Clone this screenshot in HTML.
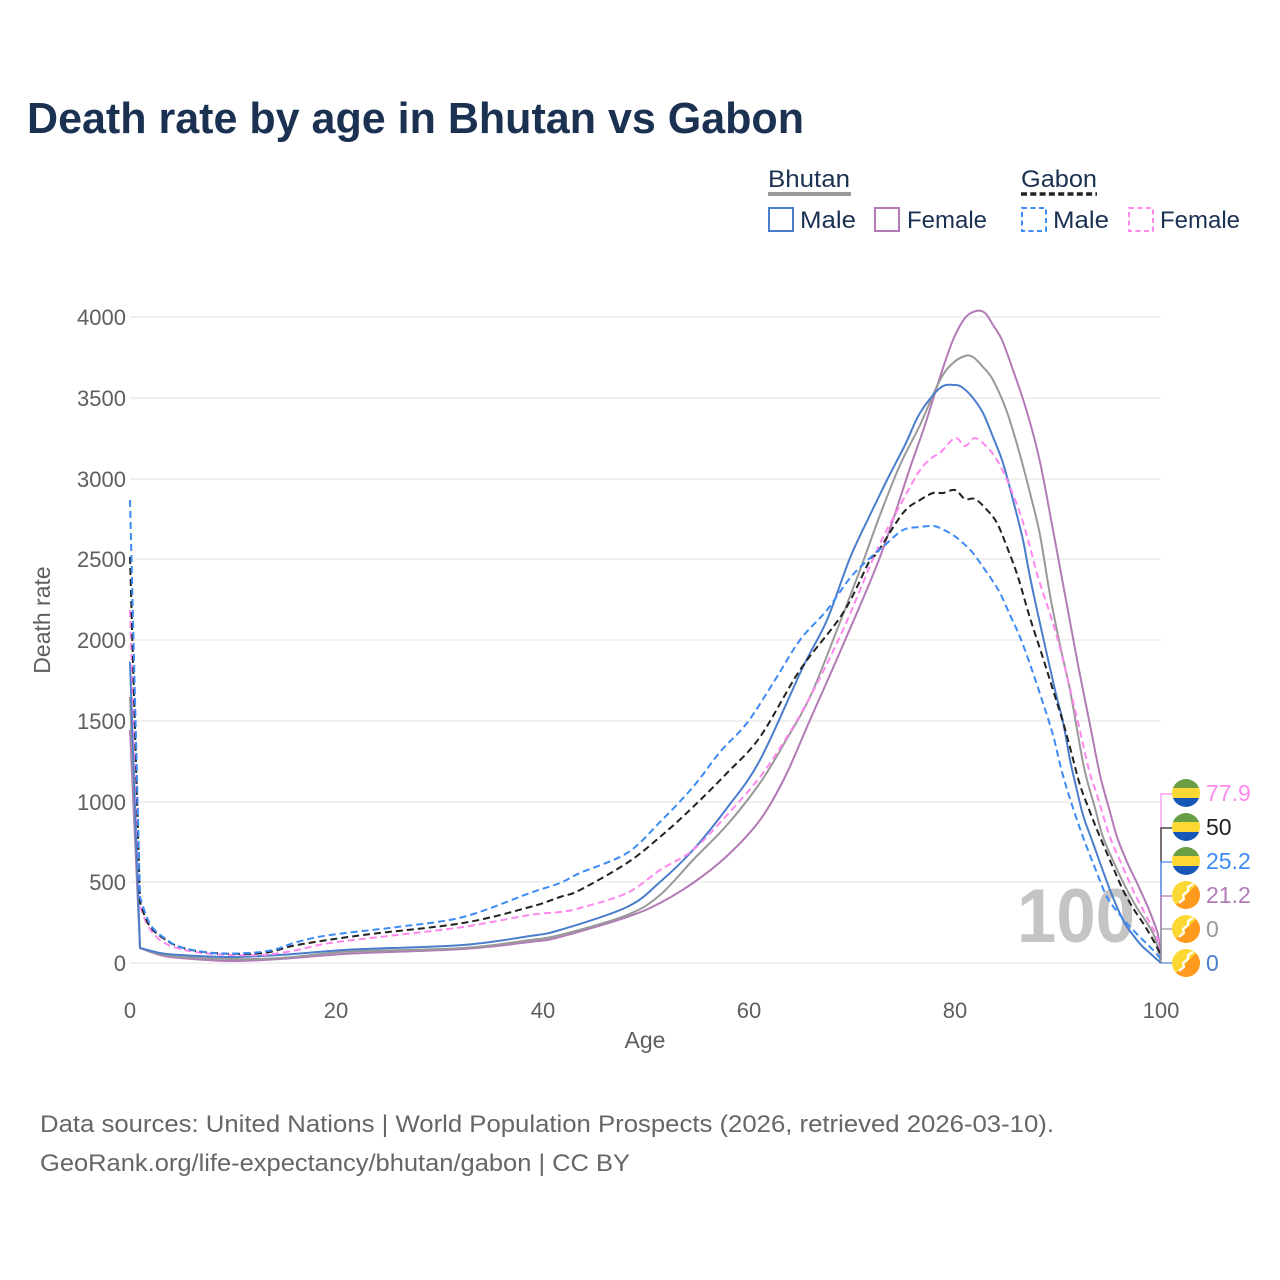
<!DOCTYPE html>
<html>
<head>
<meta charset="utf-8">
<style>
html,body{margin:0;padding:0;background:#fff;}
svg{display:block;}
text{font-family:"Liberation Sans",sans-serif;}
</style>
</head>
<body>
<svg id="chart" width="1280" height="1280" viewBox="0 0 1280 1280" xmlns="http://www.w3.org/2000/svg">
<rect width="1280" height="1280" fill="#fff"/>

<!-- Title -->
<text x="27" y="133" font-size="44" font-weight="bold" fill="#1b3152" textLength="777" lengthAdjust="spacingAndGlyphs">Death rate by age in Bhutan vs Gabon</text>

<!-- Legend -->
<text x="768" y="187" font-size="24" fill="#1b3152" textLength="82" lengthAdjust="spacingAndGlyphs">Bhutan</text>
<line x1="768" y1="194" x2="851" y2="194" stroke="#999" stroke-width="4"/>
<text x="1021" y="187" font-size="24" fill="#1b3152" textLength="76" lengthAdjust="spacingAndGlyphs">Gabon</text>
<line x1="1021" y1="194" x2="1097" y2="194" stroke="#222" stroke-width="3.5" stroke-dasharray="6,3.3"/>

<rect x="769" y="208" width="24" height="23" fill="none" stroke="#4a7dcb" stroke-width="2"/>
<text x="800" y="228" font-size="24" fill="#1b3152" textLength="56" lengthAdjust="spacingAndGlyphs">Male</text>
<rect x="875" y="208" width="24" height="23" fill="none" stroke="#b27ab6" stroke-width="2"/>
<text x="907" y="228" font-size="24" fill="#1b3152" textLength="80" lengthAdjust="spacingAndGlyphs">Female</text>
<rect x="1022" y="208" width="24" height="23" fill="none" stroke="#3d8bf5" stroke-width="2" stroke-dasharray="5,3.5"/>
<text x="1053" y="228" font-size="24" fill="#1b3152" textLength="56" lengthAdjust="spacingAndGlyphs">Male</text>
<rect x="1129" y="208" width="24" height="23" fill="none" stroke="#ff88ee" stroke-width="2" stroke-dasharray="5,3.5"/>
<text x="1160" y="228" font-size="24" fill="#1b3152" textLength="80" lengthAdjust="spacingAndGlyphs">Female</text>

<!-- Gridlines -->
<g stroke="#ebebeb" stroke-width="1.5">
<line x1="130" y1="317" x2="1161" y2="317"/>
<line x1="130" y1="398" x2="1161" y2="398"/>
<line x1="130" y1="479" x2="1161" y2="479"/>
<line x1="130" y1="559" x2="1161" y2="559"/>
<line x1="130" y1="640" x2="1161" y2="640"/>
<line x1="130" y1="721" x2="1161" y2="721"/>
<line x1="130" y1="802" x2="1161" y2="802"/>
<line x1="130" y1="882" x2="1161" y2="882"/>
<line x1="130" y1="963" x2="1161" y2="963"/>
</g>

<!-- Y tick labels -->
<g font-size="22" fill="#5e5e5e" text-anchor="end">
<text x="126" y="325">4000</text>
<text x="126" y="406">3500</text>
<text x="126" y="487">3000</text>
<text x="126" y="567">2500</text>
<text x="126" y="648">2000</text>
<text x="126" y="729">1500</text>
<text x="126" y="810">1000</text>
<text x="126" y="890">500</text>
<text x="126" y="971">0</text>
</g>
<text transform="translate(50,620) rotate(-90)" font-size="23" fill="#5e5e5e" text-anchor="middle">Death rate</text>

<!-- X tick labels -->
<g font-size="22" fill="#5e5e5e" text-anchor="middle">
<text x="130" y="1018">0</text>
<text x="336" y="1018">20</text>
<text x="543" y="1018">40</text>
<text x="749" y="1018">60</text>
<text x="955" y="1018">80</text>
<text x="1161" y="1018">100</text>
</g>
<text x="645" y="1048" font-size="23" fill="#5e5e5e" text-anchor="middle">Age</text>

<!-- Watermark -->
<text x="1076" y="942" font-size="76" font-weight="bold" fill="#c4c4c4" text-anchor="middle" textLength="118" lengthAdjust="spacingAndGlyphs">100</text>

<!-- Series -->
<g id="series" fill="none" stroke-width="2" stroke-linejoin="round" stroke-linecap="butt">
<polyline stroke="#b27ab6" points="130,730 140,948 160,955 180,958 230,961 280,959 330,955 363,953 463,949 530,942 560,937 627,917 660,903 693,883 727,856 760,820 785,777 810,720 843,645 880,557 910,468 925,425 940,377 953,340 965,318 976,311 985,313 993,325 1002,340 1013,370 1027,412 1040,462 1053,530 1066,600 1078,665 1090,725 1100,775 1110,812 1117,837 1127,862 1137,883 1147,905 1153,920 1158,935 1161,960"/>
<polyline stroke="#999999" points="130,697 140,948 160,954 180,957 230,959 280,958 330,953 363,951 463,948 530,940 560,935 627,915 660,895 693,860 727,825 760,783 785,742 810,697 835,635 860,570 880,515 900,465 920,425 940,380 953,363 965,356 973,357 983,367 993,380 1007,412 1020,455 1030,493 1040,535 1050,595 1060,645 1070,690 1078,735 1085,772 1095,808 1103,837 1115,865 1127,890 1137,908 1147,923 1155,938 1161,963"/>
<polyline stroke="#4a7dcb" points="130,662 140,948 160,953 180,955 230,957 280,955 330,951 363,949 463,945 530,936 560,930 627,907 660,882 693,850 727,808 760,760 803,667 827,620 850,558 870,515 887,480 905,445 920,413 940,388 955,385 963,388 973,398 983,413 993,437 1003,463 1013,500 1023,540 1030,577 1043,637 1055,690 1063,722 1070,760 1075,782 1083,815 1093,843 1110,890 1123,920 1133,935 1143,947 1152,955 1161,963"/>
<polyline stroke="#ff88ee" stroke-dasharray="7,4" points="130,610 140,906 146,922 152,932 163,942 180,949 213,954 263,955 297,950 330,943 397,935 463,927 530,915 560,912 580,908 627,893 660,870 693,850 727,815 760,777 785,740 810,697 843,630 877,550 903,500 920,470 933,457 940,453 955,438 965,446 975,438 987,447 997,460 1007,480 1020,513 1030,547 1038,577 1057,637 1077,718 1089,770 1097,795 1110,837 1122,865 1133,890 1142,908 1150,923 1156,935 1161,950"/>
<polyline stroke="#222222" stroke-dasharray="7,4" points="130,557 140,902 146,919 152,929 163,938 180,947 213,953 263,953 297,945 363,935 463,923 530,907 560,897 580,890 627,863 660,837 693,807 727,773 760,737 800,670 843,613 870,560 877,553 903,513 920,500 933,493 943,493 955,490 965,499 975,499 987,510 997,523 1007,547 1018,577 1030,618 1043,658 1053,690 1063,722 1072,755 1080,785 1090,812 1100,837 1112,865 1123,890 1133,908 1143,923 1152,938 1161,955"/>
<polyline stroke="#3d8bf5" stroke-dasharray="7,4" points="130,500 140,897 146,915 152,927 163,937 180,947 213,953 247,953 273,950 297,942 330,935 397,927 463,917 530,893 560,883 580,873 627,853 660,822 693,787 720,752 747,723 775,680 800,640 827,610 850,578 870,558 885,545 903,530 920,527 933,526 940,528 953,535 963,543 973,553 983,567 992,580 1000,593 1010,615 1020,637 1032,670 1043,703 1053,735 1062,772 1072,805 1083,837 1095,868 1107,897 1120,915 1133,930 1145,942 1153,950 1161,959"/>
</g>

<!-- Connectors -->
<g fill="none" stroke-width="1.2">
<polyline stroke="#ff88ee" points="1172,794 1161,794 1161,950"/>
<polyline stroke="#222" points="1172,828 1161,828 1161,955"/>
<polyline stroke="#3d8bf5" points="1172,862 1161,862 1161,959"/>
<polyline stroke="#b27ab6" points="1172,896 1161,896 1161,960"/>
<polyline stroke="#999" points="1172,929 1161,929 1161,963"/>
<polyline stroke="#4a7dcb" points="1172,963 1161,963"/>
</g>

<!-- Flags -->
<defs>
<clipPath id="c1"><circle cx="1186" cy="793" r="14"/></clipPath>
<clipPath id="c2"><circle cx="1186" cy="827" r="14"/></clipPath>
<clipPath id="c3"><circle cx="1186" cy="861" r="14"/></clipPath>
<clipPath id="c4"><circle cx="1186" cy="895" r="14"/></clipPath>
<clipPath id="c5"><circle cx="1186" cy="929" r="14"/></clipPath>
<clipPath id="c6"><circle cx="1186" cy="963" r="14"/></clipPath>
</defs>
<g clip-path="url(#c1)"><rect x="1172" y="779" width="28" height="10" fill="#6a9e44"/><rect x="1172" y="788" width="28" height="10" fill="#fdd835"/><rect x="1172" y="798" width="28" height="10" fill="#1657b8"/></g>
<g clip-path="url(#c2)"><rect x="1172" y="813" width="28" height="10" fill="#6a9e44"/><rect x="1172" y="822" width="28" height="10" fill="#fdd835"/><rect x="1172" y="832" width="28" height="10" fill="#1657b8"/></g>
<g clip-path="url(#c3)"><rect x="1172" y="847" width="28" height="10" fill="#6a9e44"/><rect x="1172" y="856" width="28" height="10" fill="#fdd835"/><rect x="1172" y="866" width="28" height="10" fill="#1657b8"/></g>
<g clip-path="url(#c4)"><rect x="1172" y="881" width="28" height="28" fill="#fdd835"/><polygon points="1172,909 1200,881 1200,909" fill="#ff9a1f"/><polyline points="1179,903 1184,899 1183,895 1188,891 1188,887 1193,884" fill="none" stroke="#fff" stroke-width="2.2"/></g>
<g clip-path="url(#c5)"><rect x="1172" y="915" width="28" height="28" fill="#fdd835"/><polygon points="1172,943 1200,915 1200,943" fill="#ff9a1f"/><polyline points="1179,937 1184,933 1183,929 1188,925 1188,921 1193,918" fill="none" stroke="#fff" stroke-width="2.2"/></g>
<g clip-path="url(#c6)"><rect x="1172" y="949" width="28" height="28" fill="#fdd835"/><polygon points="1172,977 1200,949 1200,977" fill="#ff9a1f"/><polyline points="1179,971 1184,967 1183,963 1188,959 1188,955 1193,952" fill="none" stroke="#fff" stroke-width="2.2"/></g>

<!-- End labels -->
<g font-size="23">
<text x="1206" y="801" fill="#ff88ee">77.9</text>
<text x="1206" y="835" fill="#222">50</text>
<text x="1206" y="869" fill="#3d8bf5">25.2</text>
<text x="1206" y="903" fill="#b27ab6">21.2</text>
<text x="1206" y="937" fill="#999">0</text>
<text x="1206" y="971" fill="#4a7dcb">0</text>
</g>

<!-- Footer -->
<text x="40" y="1132" font-size="24" fill="#666" textLength="1014" lengthAdjust="spacingAndGlyphs">Data sources: United Nations | World Population Prospects (2026, retrieved 2026-03-10).</text>
<text x="40" y="1171" font-size="24" fill="#666" textLength="590" lengthAdjust="spacingAndGlyphs">GeoRank.org/life-expectancy/bhutan/gabon | CC BY</text>
</svg>
<script>
(function(){
  var NS="http://www.w3.org/2000/svg";
  var g=document.getElementById("series");
  var pls=g.querySelectorAll("polyline");
  for(var k=0;k<pls.length;k++){
    var pl=pls[k];
    var raw=pl.getAttribute("points").trim().split(/\s+/);
    var p=raw.map(function(s){var a=s.split(",");return [parseFloat(a[0]),parseFloat(a[1])];});
    var n=p.length;
    var d="M"+p[0][0]+","+p[0][1]+" L"+p[1][0]+","+p[1][1];
    function tan(i){
      if(i<=1) return [(p[2][0]-p[1][0])/2,(p[2][1]-p[1][1])/2];
      if(i>=n-1) return [(p[n-1][0]-p[n-2][0])/2,(p[n-1][1]-p[n-2][1])/2];
      return [(p[i+1][0]-p[i-1][0])/2,(p[i+1][1]-p[i-1][1])/2];
    }
    for(var i=1;i<n-1;i++){
      var t1=tan(i),t2=tan(i+1);
      var c1=[p[i][0]+t1[0]/3,p[i][1]+t1[1]/3];
      var c2=[p[i+1][0]-t2[0]/3,p[i+1][1]-t2[1]/3];
      d+=" C"+c1[0].toFixed(1)+","+c1[1].toFixed(1)+" "+c2[0].toFixed(1)+","+c2[1].toFixed(1)+" "+p[i+1][0]+","+p[i+1][1];
    }
    var path=document.createElementNS(NS,"path");
    path.setAttribute("d",d);
    path.setAttribute("stroke",pl.getAttribute("stroke"));
    if(pl.getAttribute("stroke-dasharray")) path.setAttribute("stroke-dasharray",pl.getAttribute("stroke-dasharray"));
    g.replaceChild(path,pl);
  }
})();
</script>
</body>
</html>
